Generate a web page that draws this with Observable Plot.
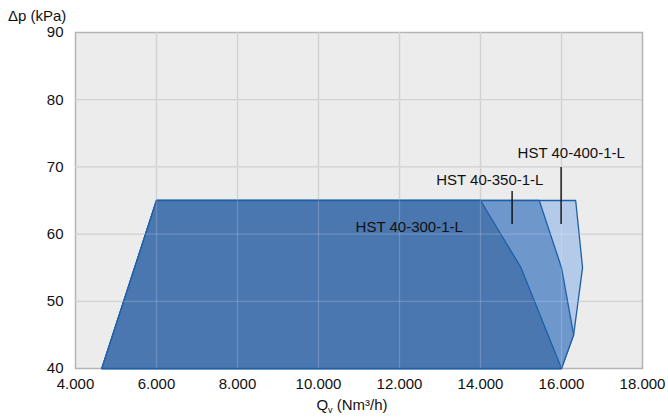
<!DOCTYPE html>
<html>
<head>
<meta charset="utf-8">
<script src="https://cdn.jsdelivr.net/npm/d3@7"></script>
<script src="https://cdn.jsdelivr.net/npm/@observablehq/plot@0.6"></script>
<style>
  html, body { margin: 0; padding: 0; background: #fff; }
  #chart svg { display: block; }
</style>
</head>
<body>
<div id="chart"></div>
<script>
const xTicks = [4000, 6000, 8000, 10000, 12000, 14000, 16000, 18000];
const yTicks = [40, 50, 60, 70, 80, 90];

const seriesNames = ["HST 40-400-1-L", "HST 40-350-1-L", "HST 40-300-1-L"];
const q400 = [4650, 6000, 16350, 16520, 16300, 16000];
const dp400 = [40, 65, 65, 55, 45, 40];
const q350 = [4650, 6000, 15450, 16000, 16300, 16000];
const dp350 = [40, 65, 65, 55, 45, 40];
const q300 = [4650, 6000, 14000, 15000, 16000];
const dp300 = [40, 65, 65, 55, 40];
const fills = ["#b3cae8", "#6e97cc", "#4a77b0"];

const labelText = ["HST 40-300-1-L", "HST 40-350-1-L", "HST 40-400-1-L"];
const labelQ = [12240, 14230, 16240];
const labelDp = [61.0, 68.0, 72.0];
const leaderQ = [14780, 15990];
const leaderTop = [66.4, 70.0];
const leaderBottom = [61.5, 61.5];

const polys = [[q400, dp400], [q350, dp350], [q300, dp300]];
const polyData = [];
polys.forEach(([qs, ds], i) => {
  const n = qs.length;
  for (let k = 0; k <= n; k++) {
    polyData.push({series: seriesNames[i], q: qs[k % n], dp: ds[k % n], order: i});
  }
});
const labels = labelText.map((t, i) => ({t, q: labelQ[i], dp: labelDp[i]}));
const leaders = leaderQ.map((q, i) => ({q, y1: leaderTop[i], y2: leaderBottom[i]}));

const fmt = d => d3.format(",")(d).replace(/,/g, ".");

const plot = Plot.plot({
  width: 668,
  height: 418,
  marginLeft: 75,
  marginRight: 26,
  marginTop: 32,
  marginBottom: 50,
  style: {fontFamily: "'Liberation Sans', Arial, sans-serif", fontSize: "15px", color: "#111", background: "#fff"},
  x: {domain: [4000, 18000], ticks: xTicks, tickFormat: fmt, label: null, tickSize: 0, tickPadding: 10},
  y: {domain: [40, 90], ticks: yTicks, label: null, tickSize: 0, tickPadding: 12},
  marks: [
    Plot.frame({fill: "#ececec", stroke: "#b4b4b4", strokeWidth: 1.5}),
    Plot.gridX(xTicks.slice(1, -1), {stroke: "#c9c9c9", strokeOpacity: 1, strokeWidth: 1.3}),
    Plot.gridY(yTicks.slice(1, -1), {stroke: "#c9c9c9", strokeOpacity: 1, strokeWidth: 1.3}),
    ...seriesNames.map((s, i) =>
      Plot.line(polyData.filter(d => d.series === s), {x: "q", y: "dp", fill: fills[i], stroke: "#1f5fa6", strokeWidth: 1.3, curve: "linear", strokeLinejoin: "miter"})
    ),
    Plot.gridX(xTicks.slice(1, -1), {stroke: "#ffffff", strokeOpacity: 0.18, strokeWidth: 1.3}),
    Plot.gridY(yTicks.slice(1, -1), {stroke: "#ffffff", strokeOpacity: 0.18, strokeWidth: 1.3}),
    Plot.link(leaders, {x1: "q", x2: "q", y1: "y1", y2: "y2", stroke: "#000", strokeWidth: 1.3}),
    Plot.text(labels, {x: "q", y: "dp", text: "t", fontSize: 15, fill: "#111"}),
    Plot.axisX({ticks: xTicks, tickFormat: fmt, tickSize: 0, tickPadding: 10, label: null}),
    Plot.axisY({ticks: yTicks, tickSize: 0, tickPadding: 12, label: null})
  ]
});

const svg = d3.select(plot);
svg.append("text")
  .attr("x", 8).attr("y", 20.5)
  .attr("text-anchor", "start")
  .attr("font-size", 15).attr("fill", "#111")
  .text("Δp (kPa)");
const xl = svg.append("text")
  .attr("x", 352).attr("y", 410)
  .attr("text-anchor", "middle")
  .attr("font-size", 15).attr("fill", "#111");
xl.append("tspan").text("Q");
xl.append("tspan").attr("font-size", 9).attr("dy", 3).text("v");
xl.append("tspan").attr("dy", -3).text(" (Nm³/h)");

document.getElementById("chart").appendChild(plot);
</script>
</body>
</html>
